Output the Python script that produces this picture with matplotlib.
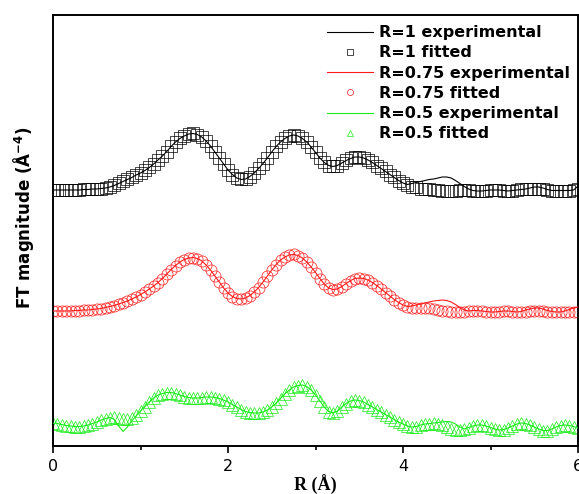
import numpy as np
import matplotlib
matplotlib.use("Agg")
import matplotlib.pyplot as plt

# R grid (Å), 0.05 step
r = np.linspace(0, 6, 121)

# FT magnitudes (arb. units)
r1_fit = [0.16, 0.16, 0.16, 0.16, 0.16, 0.16, 0.16, 0.165, 0.165, 0.17,
          0.17, 0.175, 0.18, 0.19, 0.205, 0.225, 0.245, 0.265, 0.285, 0.31,
          0.33, 0.355, 0.385, 0.42, 0.46, 0.50, 0.545, 0.595, 0.64, 0.675,
          0.70, 0.72, 0.725, 0.715, 0.69, 0.65, 0.60, 0.54, 0.48, 0.42,
          0.36, 0.315, 0.28, 0.265, 0.27, 0.295, 0.33, 0.375, 0.425, 0.48,
          0.54, 0.595, 0.64, 0.675, 0.70, 0.71, 0.70, 0.675, 0.64, 0.59,
          0.535, 0.48, 0.435, 0.405, 0.395, 0.405, 0.43, 0.455, 0.475, 0.49,
          0.49, 0.48, 0.46, 0.435, 0.405, 0.375, 0.345, 0.315, 0.285, 0.255,
          0.23, 0.21, 0.195, 0.185, 0.175, 0.17, 0.165, 0.16, 0.16, 0.155,
          0.155, 0.155, 0.155, 0.16, 0.16, 0.16, 0.155, 0.15, 0.15, 0.155,
          0.16, 0.16, 0.16, 0.155, 0.15, 0.155, 0.16, 0.165, 0.165, 0.165,
          0.17, 0.17, 0.165, 0.16, 0.155, 0.155, 0.155, 0.155, 0.155, 0.16,
          0.165]
r1_exp = [0.16, 0.16, 0.16, 0.16, 0.16, 0.16, 0.16, 0.165, 0.165, 0.17,
          0.17, 0.175, 0.18, 0.19, 0.205, 0.225, 0.245, 0.265, 0.285, 0.31,
          0.33, 0.355, 0.385, 0.42, 0.46, 0.50, 0.545, 0.595, 0.64, 0.675,
          0.70, 0.72, 0.725, 0.715, 0.69, 0.65, 0.60, 0.54, 0.48, 0.42,
          0.36, 0.315, 0.28, 0.265, 0.27, 0.295, 0.33, 0.375, 0.425, 0.48,
          0.54, 0.595, 0.64, 0.675, 0.70, 0.71, 0.70, 0.675, 0.64, 0.59,
          0.535, 0.48, 0.435, 0.405, 0.395, 0.405, 0.43, 0.455, 0.475, 0.49,
          0.49, 0.48, 0.46, 0.435, 0.405, 0.375, 0.345, 0.315, 0.285, 0.255,
          0.23, 0.215, 0.225, 0.235, 0.245, 0.255, 0.265, 0.27, 0.28, 0.29,
          0.29, 0.28, 0.255, 0.225, 0.195, 0.17, 0.155, 0.15, 0.15, 0.155,
          0.16, 0.16, 0.16, 0.155, 0.15, 0.155, 0.16, 0.165, 0.17, 0.18,
          0.19, 0.19, 0.18, 0.165, 0.155, 0.155, 0.155, 0.155, 0.155, 0.16,
          0.20]

r075_fit = [0.15, 0.15, 0.15, 0.15, 0.15, 0.155, 0.155, 0.16, 0.16, 0.165,
            0.17, 0.175, 0.185, 0.195, 0.205, 0.22, 0.235, 0.25, 0.27, 0.29,
            0.315, 0.34, 0.37, 0.40, 0.435, 0.475, 0.52, 0.565, 0.605, 0.64,
            0.665, 0.68, 0.685, 0.675, 0.65, 0.61, 0.56, 0.50, 0.44, 0.38,
            0.33, 0.295, 0.275, 0.27, 0.28, 0.305, 0.34, 0.385, 0.44, 0.50,
            0.56, 0.615, 0.66, 0.69, 0.71, 0.715, 0.705, 0.68, 0.64, 0.59,
            0.535, 0.475, 0.42, 0.38, 0.365, 0.37, 0.395, 0.425, 0.455, 0.475,
            0.48, 0.475, 0.46, 0.435, 0.405, 0.37, 0.335, 0.30, 0.265, 0.235,
            0.21, 0.19, 0.18, 0.18, 0.185, 0.185, 0.18, 0.17, 0.16, 0.155,
            0.15, 0.145, 0.14, 0.14, 0.145, 0.15, 0.155, 0.155, 0.15, 0.145,
            0.14, 0.14, 0.145, 0.15, 0.15, 0.145, 0.14, 0.14, 0.145, 0.15,
            0.155, 0.155, 0.15, 0.145, 0.14, 0.14, 0.14, 0.145, 0.145, 0.14,
            0.14]
r075_exp = [0.15, 0.15, 0.15, 0.15, 0.15, 0.155, 0.155, 0.16, 0.16, 0.165,
            0.17, 0.175, 0.185, 0.195, 0.205, 0.22, 0.235, 0.25, 0.27, 0.29,
            0.315, 0.34, 0.37, 0.40, 0.435, 0.475, 0.52, 0.565, 0.605, 0.64,
            0.665, 0.68, 0.685, 0.675, 0.65, 0.61, 0.56, 0.50, 0.44, 0.38,
            0.33, 0.295, 0.275, 0.27, 0.28, 0.305, 0.34, 0.385, 0.44, 0.50,
            0.56, 0.615, 0.66, 0.69, 0.71, 0.715, 0.705, 0.68, 0.64, 0.59,
            0.535, 0.475, 0.42, 0.38, 0.365, 0.37, 0.395, 0.425, 0.455, 0.475,
            0.48, 0.475, 0.46, 0.435, 0.405, 0.37, 0.335, 0.30, 0.265, 0.235,
            0.21, 0.195, 0.20, 0.21, 0.22, 0.23, 0.24, 0.25, 0.255, 0.26,
            0.255, 0.24, 0.215, 0.185, 0.16, 0.15, 0.155, 0.155, 0.15, 0.145,
            0.14, 0.14, 0.145, 0.15, 0.15, 0.145, 0.14, 0.145, 0.16, 0.17,
            0.18, 0.18, 0.17, 0.155, 0.145, 0.14, 0.14, 0.15, 0.165, 0.18,
            0.19]

r05_fit = [0.23, 0.225, 0.215, 0.205, 0.20, 0.195, 0.195, 0.20, 0.21, 0.225,
           0.24, 0.26, 0.275, 0.285, 0.29, 0.285, 0.275, 0.27, 0.28, 0.31,
           0.35, 0.395, 0.44, 0.48, 0.51, 0.525, 0.535, 0.535, 0.525, 0.51,
           0.495, 0.485, 0.48, 0.48, 0.485, 0.49, 0.49, 0.485, 0.475, 0.46,
           0.44, 0.415, 0.39, 0.365, 0.345, 0.335, 0.33, 0.33, 0.34, 0.36,
           0.39, 0.43, 0.475, 0.52, 0.56, 0.59, 0.605, 0.61, 0.595, 0.56,
           0.51, 0.45, 0.39, 0.345, 0.33, 0.35, 0.39, 0.425, 0.45, 0.46,
           0.455, 0.44, 0.415, 0.39, 0.365, 0.34, 0.315, 0.29, 0.265, 0.24,
           0.22, 0.20, 0.19, 0.195, 0.21, 0.22, 0.225, 0.23, 0.225, 0.21,
           0.19, 0.175, 0.165, 0.16, 0.17, 0.185, 0.20, 0.21, 0.21, 0.20,
           0.185, 0.17, 0.16, 0.165, 0.18, 0.20, 0.22, 0.23, 0.225, 0.21,
           0.19, 0.17, 0.155, 0.155, 0.17, 0.19, 0.205, 0.21, 0.205, 0.195,
           0.18]
r05_exp = [0.23, 0.225, 0.215, 0.205, 0.20, 0.195, 0.195, 0.20, 0.21, 0.225,
           0.24, 0.26, 0.275, 0.285, 0.265, 0.20, 0.145, 0.19, 0.25, 0.30,
           0.35, 0.395, 0.44, 0.48, 0.51, 0.525, 0.535, 0.535, 0.525, 0.51,
           0.495, 0.485, 0.48, 0.48, 0.485, 0.49, 0.49, 0.485, 0.475, 0.46,
           0.44, 0.415, 0.39, 0.365, 0.345, 0.335, 0.33, 0.33, 0.34, 0.36,
           0.39, 0.43, 0.475, 0.52, 0.56, 0.59, 0.605, 0.61, 0.595, 0.56,
           0.51, 0.45, 0.39, 0.345, 0.33, 0.35, 0.39, 0.425, 0.45, 0.46,
           0.455, 0.44, 0.415, 0.39, 0.365, 0.34, 0.315, 0.29, 0.265, 0.24,
           0.22, 0.20, 0.19, 0.195, 0.21, 0.22, 0.225, 0.23, 0.235, 0.24,
           0.245, 0.24, 0.22, 0.19, 0.17, 0.185, 0.20, 0.21, 0.21, 0.20,
           0.185, 0.17, 0.16, 0.165, 0.18, 0.20, 0.22, 0.23, 0.225, 0.21,
           0.19, 0.17, 0.155, 0.155, 0.17, 0.19, 0.205, 0.21, 0.205, 0.195,
           0.18]

labels = ["R=1", "R=0.75", "R=0.5"]
offsets = [2.4, 1.2, 0.0]
colors = ["black", "#ff1a1a", "#1aec1a"]
markers = ["s", "o", "^"]

exp_data = [r1_exp, r075_exp, r05_exp]
fit_data = [r1_fit, r075_fit, r05_fit]

fig = plt.figure(figsize=(5.79, 4.94), dpi=100)
ax = fig.add_axes([53 / 579, 48 / 494, 525 / 579, 431 / 494])

handles = []
for lab, off, col, mk, ye, yf in zip(labels, offsets, colors, markers, exp_data, fit_data):
    ye = np.array(ye) + off
    yf = np.array(yf) + off
    h_fit, = ax.plot(r, yf, linestyle="none", marker=mk, markersize=8,
                     markerfacecolor="none", markeredgecolor=col,
                     markeredgewidth=0.5, zorder=2)
    h_exp, = ax.plot(r, ye, color=col, lw=0.8, zorder=3)
    handles += [h_exp, h_fit]

leg_labels = []
for lab in labels:
    leg_labels += [lab + " experimental", lab + " fitted"]

ax.legend(handles, leg_labels, loc="upper left", bbox_to_anchor=(0.506, 0.995),
          frameon=False, borderpad=0, handlelength=2.9, handletextpad=0.4,
          labelspacing=0.33, markerscale=0.55, prop={"weight": "bold", "size": 11.5})

ax.set_xlim(0, 6)
ax.set_ylim(0, 4.31)
ax.set_xticks([0, 2, 4, 6])
ax.set_xticks([1, 3, 5], minor=True)
ax.set_yticks([])
ax.tick_params(axis="x", which="major", direction="out", length=5, width=1.2,
               labelsize=11.5, pad=4, top=False)
ax.tick_params(axis="x", which="minor", direction="out", length=3, width=1.2, top=False)
for sp in ax.spines.values():
    sp.set_linewidth(1.4)

ax.set_xlabel("R (Å)", family="Liberation Serif", weight="bold", fontsize=13, labelpad=1)
ax.set_ylabel(r"FT magnitude (Å$^{\mathbf{-4}}$)", weight="bold", fontsize=12)
ax.yaxis.set_label_coords(-0.032, 0.53)

fig.savefig("out.png", dpi=100)
